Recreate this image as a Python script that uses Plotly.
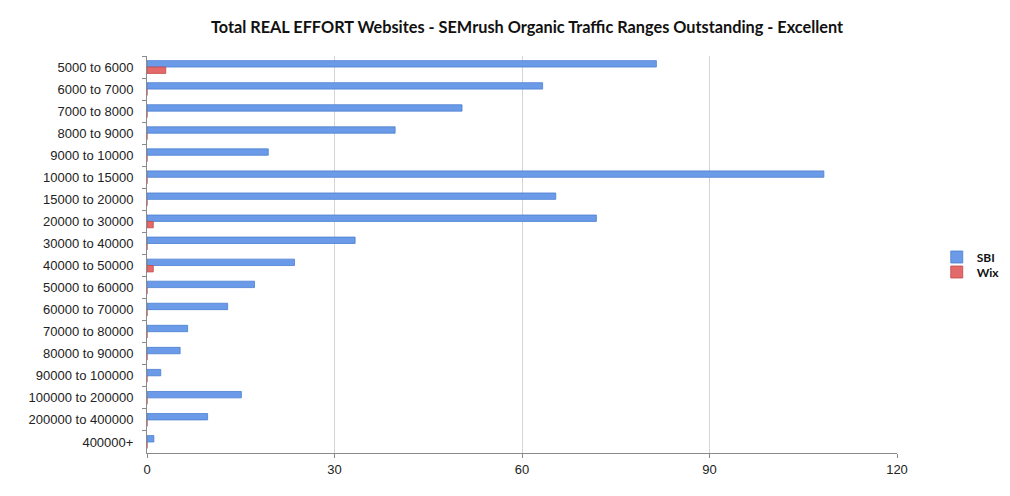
import plotly.graph_objects as go

categories = ["5000 to 6000", "6000 to 7000", "7000 to 8000", "8000 to 9000", "9000 to 10000",
              "10000 to 15000", "15000 to 20000", "20000 to 30000", "30000 to 40000",
              "40000 to 50000", "50000 to 60000", "60000 to 70000", "70000 to 80000",
              "80000 to 90000", "90000 to 100000", "100000 to 200000", "200000 to 400000",
              "400000+"]
sbi = [81.5, 63.3, 50.4, 39.7, 19.4, 108.3, 65.4, 71.9, 33.3, 23.6, 17.2, 12.9, 6.5, 5.3, 2.2,
       15.1, 9.7, 1.1]
wix = [3, 0, 0, 0, 0, 0, 0, 1, 0, 1, 0, 0, 0, 0, 0, 0, 0, 0]
x_ticks = [0, 30, 60, 90, 120]

fig = go.Figure()
fig.add_trace(go.Bar(y=categories, x=sbi, name="<b>SBI</b>", orientation="h", legend="legend",
                     marker=dict(color="#6b9be8", line=dict(color="#4a7fd0", width=0.8))))
fig.add_trace(go.Bar(y=categories, x=wix, name="<b>Wix</b>", orientation="h", legend="legend2",
                     marker=dict(color="#e36a6a", line=dict(color="#c94848", width=0.8))))

leg_common = dict(xanchor="left", yanchor="middle",
                  font=dict(family="Lato", size=12, color="#111"),
                  itemwidth=30, bgcolor="rgba(0,0,0,0)")

fig.update_layout(
    width=1002, height=488,
    barmode="group", bargap=0.42, bargroupgap=0,
    paper_bgcolor="white", plot_bgcolor="white",
    margin=dict(l=139, r=113, t=48, b=43, autoexpand=False),
    title=dict(text="<b>Total REAL EFFORT Websites - SEMrush Organic Traffic Ranges Outstanding - Excellent</b>",
               x=0.518, xanchor="center", y=0.961, yanchor="middle",
               font=dict(family="Lato", size=16.3, color="#111")),
    font=dict(family="Liberation Sans, Arial", size=13, color="#222"),
    legend=dict(x=1.053, y=(453 - 257) / 397, **leg_common),
    legend2=dict(x=1.053, y=(453 - 272) / 397, **leg_common),
    showlegend=True,
)
fig.update_xaxes(range=[0, 120], tickvals=x_ticks, showgrid=True, gridcolor="#d4d4d4",
                 gridwidth=1, zeroline=False, showline=True, linecolor="#8a8a8a",
                 ticks="outside", ticklen=4, tickcolor="#8a8a8a", ticklabelstandoff=0,
                 tickfont=dict(size=13, color="#222"))
fig.update_yaxes(autorange="reversed", showline=True, linecolor="#8a8a8a",
                 ticks="outside", ticklen=4, tickcolor="#8a8a8a", tickson="boundaries",
                 ticklabelstandoff=10, showgrid=False, tickfont=dict(size=13, color="#222"))

fig.write_html("out.html")
